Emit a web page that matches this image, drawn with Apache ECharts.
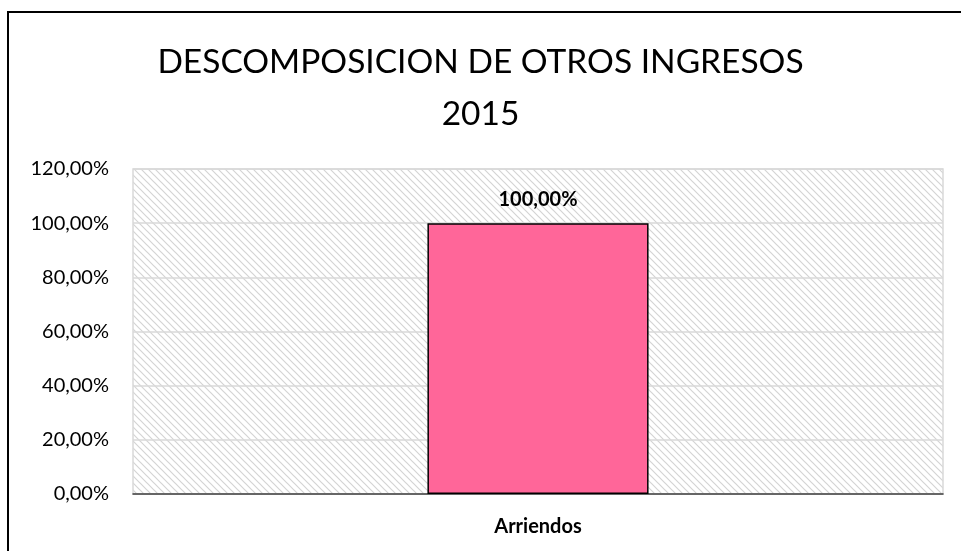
<!DOCTYPE html>
<html>
<head>
<meta charset="utf-8">
<script src="https://cdn.jsdelivr.net/npm/echarts@6/dist/echarts.min.js"></script>
<style>
  html, body { margin: 0; padding: 0; background: #fff; }
  #main { width: 961px; height: 551px; }
</style>
</head>
<body>
<div id="main"></div>
<script>
var categories = ['Arriendos'];
var values = [1.0];
var yTicks = [0, 0.2, 0.4, 0.6, 0.8, 1.0, 1.2];

function pct(v) {
  return (v * 100).toFixed(2).replace('.', ',') + '%';
}

// diagonal hatch for the plot area
var hatch = document.createElement('canvas');
hatch.width = 7;
hatch.height = 7;
var ctx = hatch.getContext('2d');
ctx.fillStyle = '#fff';
ctx.fillRect(0, 0, 7, 7);
ctx.strokeStyle = '#d4d4d4';
ctx.lineWidth = 1.2;
ctx.beginPath();
ctx.moveTo(-1, -1); ctx.lineTo(8, 8);
ctx.moveTo(-8, -1); ctx.lineTo(1, 8);
ctx.moveTo(6, -1); ctx.lineTo(15, 8);
ctx.stroke();

var chart = echarts.init(document.getElementById('main'));
chart.setOption({
  backgroundColor: '#fff',
  animation: false,
  title: {
    text: 'DESCOMPOSICION DE OTROS INGRESOS\n2015',
    left: 'center',
    top: 31,
    textStyle: {
      fontFamily: 'Lato',
      fontWeight: 'normal',
      fontSize: 33.5,
      lineHeight: 52,
      color: '#000'
    }
  },
  graphic: [{
    type: 'rect',
    shape: { x: 8, y: 12, width: 1000, height: 600 },
    style: { fill: 'none', stroke: '#000', lineWidth: 2 },
    silent: true
  }],
  grid: {
    left: 133,
    right: 18,
    top: 169,
    bottom: 57,
    show: true,
    backgroundColor: { image: hatch, repeat: 'repeat' },
    borderColor: '#d9d9d9',
    borderWidth: 1.5
  },
  xAxis: {
    type: 'category',
    data: categories,
    axisTick: { show: false },
    axisLine: { lineStyle: { color: '#404040', width: 1.5 } },
    axisLabel: {
      margin: 23,
      color: '#000',
      fontFamily: 'Lato',
      fontWeight: 'bold',
      fontSize: 20
    }
  },
  yAxis: {
    type: 'value',
    min: yTicks[0],
    max: yTicks[yTicks.length - 1],
    interval: 0.2,
    axisLine: { show: false },
    axisTick: { show: false },
    splitLine: { lineStyle: { color: '#d9d9d9', width: 1.5 } },
    axisLabel: {
      margin: 24,
      color: '#000',
      fontFamily: 'Lato',
      fontSize: 20,
      formatter: pct
    }
  },
  series: [{
    type: 'bar',
    data: values,
    barWidth: '27.3%',
    itemStyle: {
      color: '#ff6699',
      borderColor: '#000',
      borderWidth: 1.5
    },
    label: {
      show: true,
      position: 'top',
      distance: 14,
      color: '#000',
      fontFamily: 'Lato',
      fontWeight: 'bold',
      fontSize: 20,
      formatter: function (p) { return pct(p.value); }
    }
  }]
});
</script>
</body>
</html>
